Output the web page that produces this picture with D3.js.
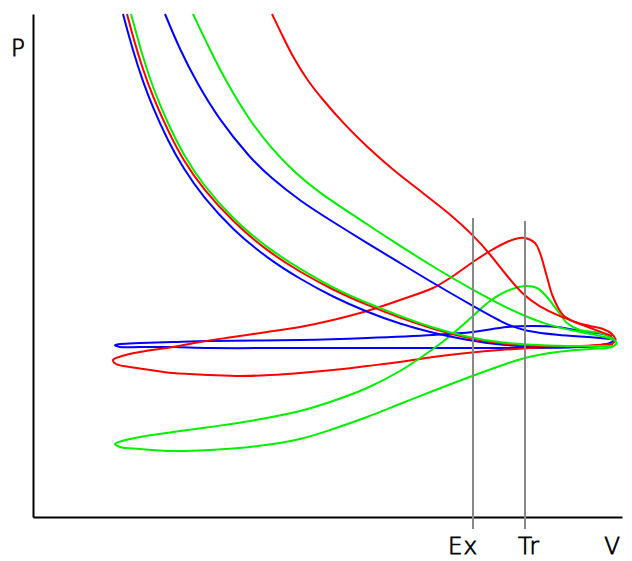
<!DOCTYPE html>
<html><head><meta charset="utf-8">
<script src="https://cdn.jsdelivr.net/npm/d3@7"></script>
<style>body{margin:0;background:#fff}svg{display:block}</style>
</head><body>
<svg id="c" width="632" height="561"></svg>
<script>
// Values: V (volume, arbitrary units) and P (pressure, arbitrary units)
const axisNames = ["V", "P"];
const markerNames = ["Ex", "Tr"];
const markerV = [440, 492];
const markerTopP = [299, 296];

const blueIsoLow = [[90,503],[100,466],[110,435],[120,409],[135,376],[150,349],[170,320],[200,287],[234,259],[267,238],[300,220],[334,205],[367,193],[400,184],[434,177],[467,172],[517,169],[557,170],[579,172]];
const redIsoLow = [[94,503],[100,480],[110,447],[120,420],[135,386],[150,357],[170,328],[200,295],[234,266],[267,245],[300,227],[334,212],[367,199],[400,188],[434,179],[467,173],[517,170],[557,171],[580,173]];
const greenIsoLow = [[98,503],[100,496],[110,459],[120,429],[135,393],[150,363],[170,332],[200,298],[234,269],[267,248],[300,229],[334,214],[367,201],[400,189],[434,180],[467,174],[517,171],[557,171],[581,171]];

const blueIsoHigh = [[132,503],[147,467],[164,434],[185,399],[217,359],[237,340],[267,316],[300,295],[334,274],[367,254],[400,234],[440,211],[474,192],[492,186],[524,182],[557,180],[578,178]];
const greenIsoHigh = [[160,503],[177,467],[194,434],[215,399],[237,370],[264,342],[287,324],[317,304],[367,271],[407,246],[440,227],[474,209],[492,201],[512,193],[540,186],[574,180],[581,177]];
const redIsoHigh = [[239,503],[250,480],[260,460],[274,437],[290,417],[310,394],[334,370],[360,347],[390,324],[417,303],[440,282],[457,263],[474,241],[490,222],[507,210],[524,202],[542,195],[560,188],[579,181]];

const redLoop = [[583,177],[579,183],[570,188],[557,191],[542,195],[530,202],[520,220],[514,240],[507,264],[502,274],[492,279],[482,278],[474,275],[457,266],[440,255],[417,239],[400,229],[367,217],[334,206],[300,197],[267,190],[234,185],[200,180],[167,175],[140,170],[107,165],[89,161],[80,157],[83,153],[97,150],[117,147],[140,144],[177,142],[207,141],[237,142],[267,144],[300,147],[334,151],[367,155],[400,160],[434,164],[467,167],[517,170],[562,171],[577,172],[583,177]];
const greenLoop = [[584,174],[578,180],[567,184],[547,187],[534,194],[524,207],[514,220],[504,229],[492,231],[474,226],[457,216],[440,201],[417,181],[400,168],[367,146],[334,129],[300,116],[267,106],[217,96],[177,90],[140,85],[107,80],[89,76],[82,73],[87,70],[107,68],[140,66],[177,67],[217,70],[267,78],[300,88],[334,100],[367,113],[400,126],[434,139],[467,151],[492,159],[524,165],[557,168],[579,170],[584,174]];
const blueLoop = [[581,177],[574,182],[547,186],[524,190],[500,191],[474,190],[440,185],[400,182],[334,179],[267,177],[177,176],[140,175],[107,174],[87,173],[82,172],[87,170],[107,170],[140,170],[177,169],[267,169],[367,169],[467,169],[492,169],[540,170],[567,172],[577,174],[581,177]];

const isotherms = [
  {pts: blueIsoLow, color: "#0000ff"},
  {pts: blueIsoHigh, color: "#0000ff"},
  {pts: redIsoLow, color: "#ff0000"},
  {pts: redIsoHigh, color: "#ff0000"},
  {pts: greenIsoLow, color: "#00f000"},
  {pts: greenIsoHigh, color: "#00f000"}
];
const loops = [
  {pts: blueLoop, color: "#0000ff"},
  {pts: redLoop, color: "#ff0000"},
  {pts: greenLoop, color: "#00f000"}
];

const svg = d3.select("#c");
const x = d3.scaleLinear().domain([0, 589]).range([33, 622]);
const y = d3.scaleLinear().domain([0, 503]).range([517, 14]);

const isoLine = d3.line().x(d => x(d[0])).y(d => y(d[1])).curve(d3.curveBasis);
const loopLine = d3.line().x(d => x(d[0])).y(d => y(d[1])).curve(d3.curveCatmullRom.alpha(0.5));

const g = svg.append("g");
g.selectAll("path.loop").data(loops).join("path").attr("class", "loop")
  .attr("d", d => loopLine(d.pts))
  .attr("fill", "none").attr("stroke", d => d.color)
  .attr("stroke-width", 2).attr("stroke-linejoin", "round");
g.selectAll("path.iso").data(isotherms).join("path").attr("class", "iso")
  .attr("d", d => isoLine(d.pts))
  .attr("fill", "none").attr("stroke", d => d.color)
  .attr("stroke-width", 2).attr("stroke-linejoin", "round");

// axes (no ticks)
const xAxis = d3.axisBottom(x).tickValues([]).tickSize(0).tickSizeOuter(0);
const yAxis = d3.axisLeft(y).tickValues([]).tickSize(0).tickSizeOuter(0);
svg.append("g").attr("transform", `translate(0,${y(0)})`).call(xAxis)
  .select(".domain").attr("stroke", "#000").attr("stroke-width", 2);
svg.append("g").attr("transform", `translate(${x(0)},0)`).call(yAxis)
  .select(".domain").attr("stroke", "#000").attr("stroke-width", 2);

// marker lines
svg.append("g").selectAll("line").data(markerV).join("line")
  .attr("x1", d => x(d)).attr("x2", d => x(d))
  .attr("y1", (d, i) => y(markerTopP[i])).attr("y2", y(-12))
  .attr("stroke", "#888").attr("stroke-width", 2);

const font = "DejaVu Sans";
const fs = 23;
function styleText(sel) {
  sel.attr("font-family", font).attr("font-weight", 200).attr("font-size", fs)
    .attr("fill", "#000").attr("stroke", "#000").attr("stroke-width", 0.8)
    .attr("text-anchor", "middle");
}
svg.append("g").selectAll("text").data(markerNames).join("text")
  .attr("x", (d, i) => x(markerV[i]) + (i === 0 ? -10 : 4))
  .attr("y", 554)
  .attr("letter-spacing", 1)
  .call(styleText)
  .text(d => d);
svg.append("text").attr("x", 612).attr("y", 554).call(styleText).text(axisNames[0]);
svg.append("text").attr("x", 18).attr("y", 56).call(styleText).text(axisNames[1]);
</script>
</body></html>
